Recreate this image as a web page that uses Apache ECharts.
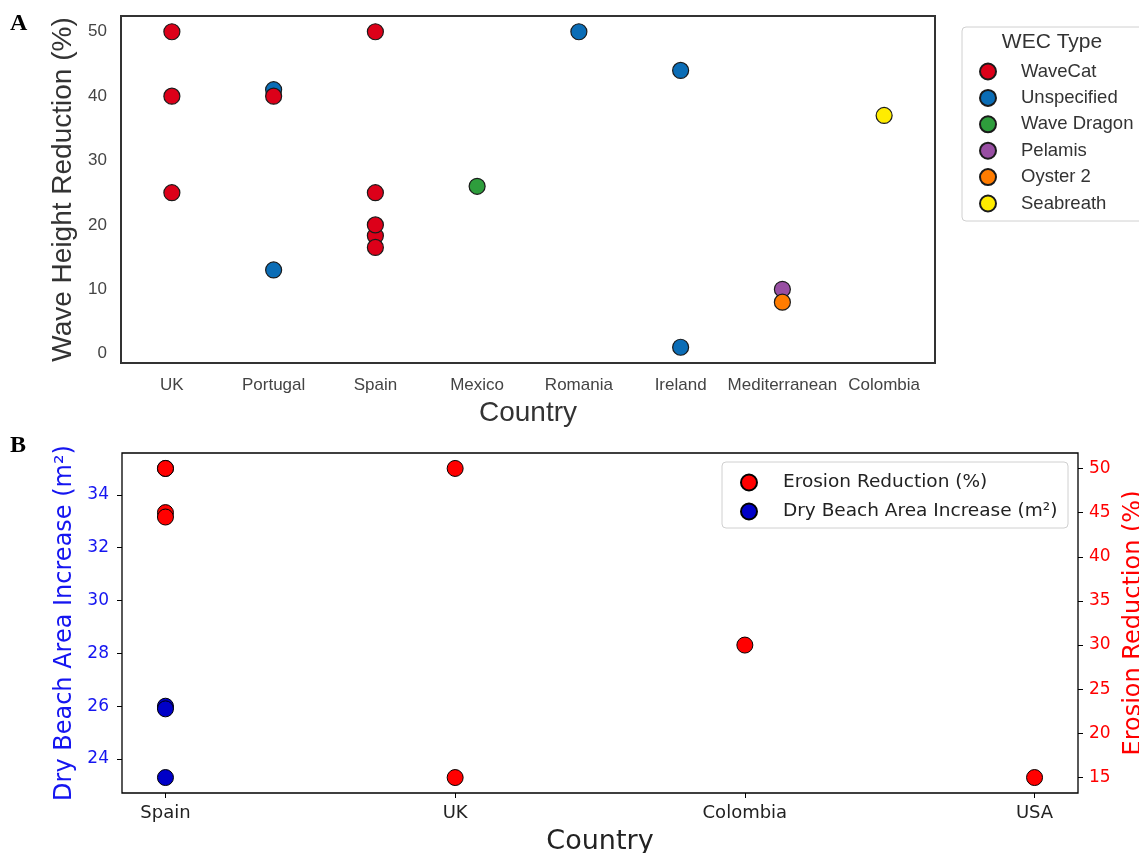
<!DOCTYPE html>
<html><head><meta charset="utf-8">
<script src="https://cdn.jsdelivr.net/npm/echarts@6/dist/echarts.min.js"></script>
<style>html,body{margin:0;padding:0;background:#fff}#c{width:1139px;height:853px}</style>
</head><body><div id="c"></div>
<script>
// ---------- Panel A data ----------
const countriesA = ['UK','Portugal','Spain','Mexico','Romania','Ireland','Mediterranean','Colombia'];
const wecTypes = ['WaveCat','Unspecified','Wave Dragon','Pelamis','Oyster 2','Seabreath'];
const waveCatCountry = ['UK','UK','UK','Portugal','Spain','Spain','Spain','Spain','Spain'];
const waveCatValue   = [50, 40, 25, 40, 50, 25, 18.3, 20, 16.5];
const unspecifiedCountry = ['Portugal','Portugal','Romania','Ireland','Ireland'];
const unspecifiedValue   = [41, 13, 50, 44, 1];
const waveDragonCountry = ['Mexico'];
const waveDragonValue   = [26];
const pelamisCountry = ['Mediterranean'];
const pelamisValue   = [10];
const oysterCountry = ['Mediterranean'];
const oysterValue   = [8];
const seabreathCountry = ['Colombia'];
const seabreathValue   = [37];
const waveTicks = [0, 10, 20, 30, 40, 50];

// ---------- Panel B data ----------
const countriesB = ['Spain','UK','Colombia','USA'];
const erosionCountry = ['Spain','Spain','Spain','UK','UK','Colombia','USA'];
const erosionValue   = [50, 45, 44.5, 50, 15, 30, 15];
const beachCountry = ['Spain','Spain','Spain','Spain'];
const beachValue   = [35, 26, 25.9, 23.3];
const beachTicks   = [24, 26, 28, 30, 32, 34];
const erosionTicks = [15, 20, 25, 30, 35, 40, 45, 50];

// ---------- styles ----------
const wecColors = ['#dc0019', '#0b6db6', '#2e9d3c', '#984ea3', '#ff7c00', '#ffec00'];
const fontA = '"Liberation Sans", Arial, sans-serif';
const fontB = '"DejaVu Sans", sans-serif';

function padRange(vals, frac) {
  const mn = Math.min(...vals), mx = Math.max(...vals), r = mx - mn;
  return [mn - frac * r, mx + frac * r];
}
const allWave = [].concat(waveCatValue, unspecifiedValue, waveDragonValue, pelamisValue, oysterValue, seabreathValue);
const waveRange = padRange(allWave, 0.05);
const beachRange = padRange(beachValue, 0.05);
const erosionRange = padRange(erosionValue, 0.05);
const xbRange = padRange([0, countriesB.length - 1], 0.05);

function pairsA(cs, vs) { return cs.map((c, i) => [c, vs[i]]); }
function pairsB(cs, vs) { return cs.map((c, i) => [countriesB.indexOf(c), vs[i]]); }

const groupsA = [
  [waveCatCountry, waveCatValue, 3],
  [unspecifiedCountry, unspecifiedValue, 2],
  [waveDragonCountry, waveDragonValue, 2],
  [pelamisCountry, pelamisValue, 2],
  [oysterCountry, oysterValue, 2],
  [seabreathCountry, seabreathValue, 2]
];

const seriesA = groupsA.map((g, i) => ({
  name: wecTypes[i], type: 'scatter', xAxisIndex: 0, yAxisIndex: 0,
  symbolSize: 16, z: g[2],
  itemStyle: { color: wecColors[i], borderColor: '#1a1a1a', borderWidth: 1.2, opacity: 1 },
  data: pairsA(g[0], g[1])
}));

const seriesB = [
  { name: 'Dry Beach Area Increase (m²)', type: 'scatter', xAxisIndex: 1, yAxisIndex: 1,
    symbolSize: 16, z: 2,
    itemStyle: { color: '#0000c8', borderColor: '#000', borderWidth: 1, opacity: 1 },
    data: pairsB(beachCountry, beachValue) },
  { name: 'Erosion Reduction (%)', type: 'scatter', xAxisIndex: 1, yAxisIndex: 2,
    symbolSize: 16, z: 3,
    itemStyle: { color: '#ff0000', borderColor: '#000', borderWidth: 1, opacity: 1 },
    data: pairsB(erosionCountry, erosionValue) }
];

const chart = echarts.init(document.getElementById('c'), null, { renderer: 'canvas' });
chart.setOption({
  animation: false,
  backgroundColor: '#fff',
  grid: [
    { left: 121, top: 16, width: 814, height: 347, show: true, borderColor: '#333', borderWidth: 2,
      backgroundColor: 'transparent', containLabel: false, outerBoundsMode: 'none' },
    { left: 122, top: 453, width: 956, height: 340, show: true, borderColor: '#000', borderWidth: 1.3,
      backgroundColor: 'transparent', containLabel: false, outerBoundsMode: 'none' }
  ],
  xAxis: [
    { gridIndex: 0, type: 'category', data: countriesA, boundaryGap: true,
      axisLine: { show: false, onZero: false }, axisTick: { show: false }, splitLine: { show: false },
      axisLabel: { interval: 0, fontFamily: fontA, fontSize: 17, color: '#444', margin: 14 },
      name: 'Country', nameLocation: 'middle', nameGap: 36,
      nameTextStyle: { fontFamily: fontA, fontSize: 28, color: '#333' } },
    { gridIndex: 1, type: 'value', min: xbRange[0], max: xbRange[1],
      axisLine: { show: false, onZero: false }, splitLine: { show: false },
      axisTick: { show: true, length: 5, customValues: countriesB.map((c, i) => i), lineStyle: { color: '#000' } },
      axisLabel: { customValues: countriesB.map((c, i) => i), formatter: v => countriesB[Math.round(v)],
        fontFamily: fontB, fontSize: 18, color: '#222', margin: 11 },
      name: 'Country', nameLocation: 'middle', nameGap: 35,
      nameTextStyle: { fontFamily: fontB, fontSize: 27, color: '#222' } }
  ],
  yAxis: [
    { gridIndex: 0, type: 'value', min: waveRange[0], max: waveRange[1],
      axisLine: { show: false, onZero: false }, axisTick: { show: false }, splitLine: { show: false },
      axisLabel: { customValues: waveTicks, fontFamily: fontA, fontSize: 17, color: '#444', margin: 14 },
      name: 'Wave Height Reduction (%)', nameLocation: 'middle', nameGap: 39,
      nameTextStyle: { fontFamily: fontA, fontSize: 28, color: '#333' } },
    { gridIndex: 1, type: 'value', position: 'left', min: beachRange[0], max: beachRange[1],
      axisLine: { show: false, onZero: false }, splitLine: { show: false },
      axisTick: { show: true, length: 5, customValues: beachTicks, lineStyle: { color: '#000' } },
      axisLabel: { customValues: beachTicks, fontFamily: fontB, fontSize: 17, color: '#1515f0', margin: 13 },
      name: 'Dry Beach Area Increase (m²)', nameLocation: 'middle', nameGap: 42,
      nameTextStyle: { fontFamily: fontB, fontSize: 24, color: '#1515f0' } },
    { gridIndex: 1, type: 'value', position: 'right', min: erosionRange[0], max: erosionRange[1],
      axisLine: { show: false, onZero: false }, splitLine: { show: false },
      axisTick: { show: true, length: 5, customValues: erosionTicks, lineStyle: { color: '#000' } },
      axisLabel: { customValues: erosionTicks, fontFamily: fontB, fontSize: 17, color: '#ff0000', margin: 11 },
      name: 'Erosion Reduction (%)', nameLocation: 'middle', nameGap: 35,
      nameTextStyle: { fontFamily: fontB, fontSize: 24, color: '#ff0000' } }
  ],
  legend: [
    { data: wecTypes, orient: 'vertical', left: 979, top: 62, padding: 0,
      itemWidth: 16, itemHeight: 16, itemGap: 7.4, icon: 'circle', z: 10,
      textStyle: { fontFamily: fontA, fontSize: 18.5, color: '#333', padding: [0, 0, 0, 20] } },
    { data: ['Erosion Reduction (%)', 'Dry Beach Area Increase (m²)'], orient: 'vertical', left: 740, top: 473, padding: 0,
      itemWidth: 16, itemHeight: 16, itemGap: 10, icon: 'circle', z: 10,
      textStyle: { fontFamily: fontB, fontSize: 18.5, color: '#222', padding: [0, 0, 0, 21] } }
  ],
  graphic: [
    { type: 'rect', z: 5, shape: { x: 962, y: 27, width: 200, height: 194, r: 4 },
      style: { fill: '#fff', stroke: '#d0d0d0', lineWidth: 1 } },
    { type: 'text', z: 6, x: 1052, y: 42, style: { text: 'WEC Type', font: '21px ' + fontA, fill: '#333', align: 'center', verticalAlign: 'middle' } },
    { type: 'rect', z: 5, shape: { x: 722, y: 462, width: 346, height: 66, r: 4 },
      style: { fill: 'rgba(255,255,255,0.85)', stroke: '#d0d0d0', lineWidth: 1 } },
    { type: 'text', z: 6, x: 10, y: 12, style: { text: 'A', font: 'bold 24px "Liberation Serif", "Times New Roman", serif', fill: '#000' } },
    { type: 'text', z: 6, x: 10, y: 434, style: { text: 'B', font: 'bold 24px "Liberation Serif", "Times New Roman", serif', fill: '#000' } }
  ],
  series: seriesA.concat(seriesB)
});
</script>
</body></html>
